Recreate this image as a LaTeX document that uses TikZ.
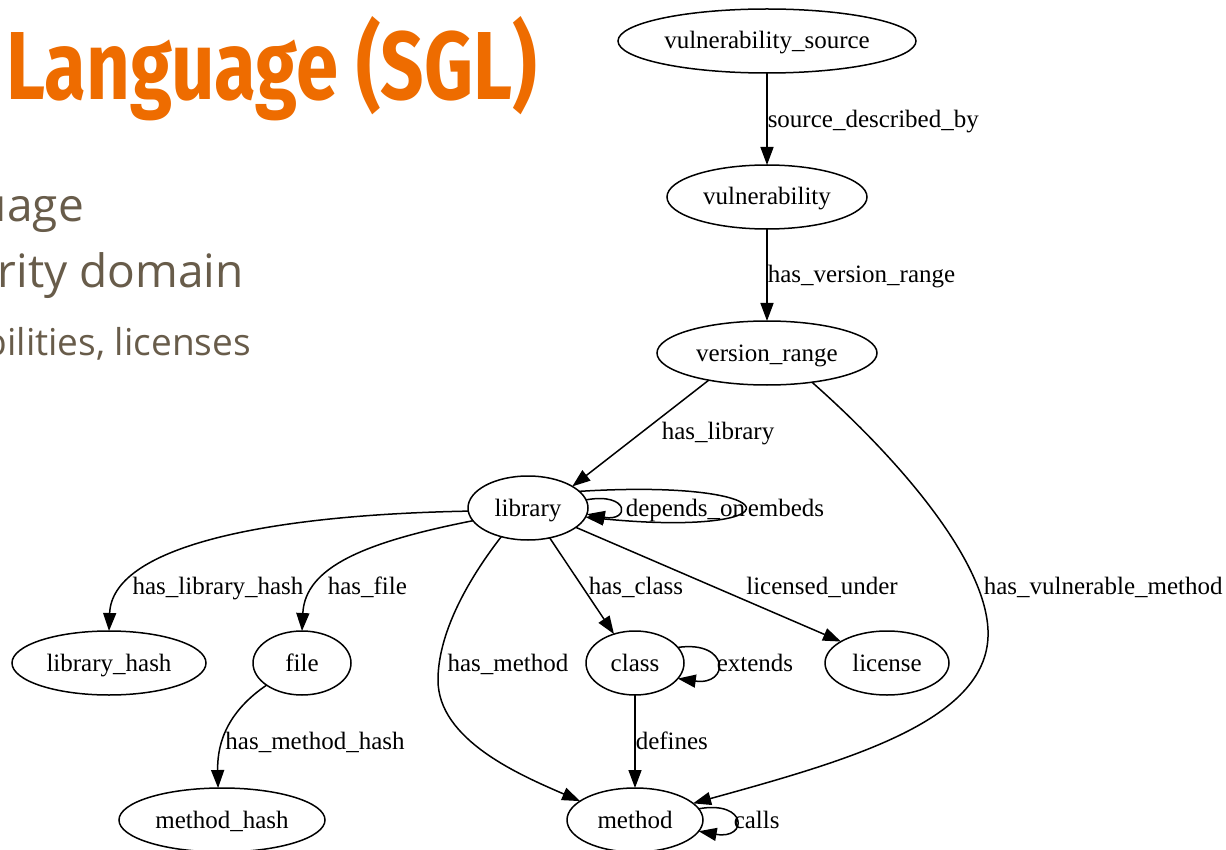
\documentclass[tikz,border=0pt]{standalone}
\usepackage{fontspec}
\setmainfont{Liberation Serif}
\newfontfamily\opensans{Open Sans}
\newfontfamily\firasans{Fira Sans}
\usetikzlibrary{shapes.geometric,arrows.meta}
\definecolor{titleorange}{RGB}{238,108,0}
\definecolor{bodybrown}{RGB}{104,92,74}
\newcommand\graphfont{\fontsize{25}{30}\selectfont}
\tikzset{
  nd/.style={draw, ellipse, line width=1.5pt, minimum height=64pt, inner sep=0pt, outer sep=0pt,
    font=\graphfont, text height=20pt, text depth=4pt},
  edge/.style={draw, line width=1.5pt, -{Triangle[length=18pt,width=13pt]}},
  lbl/.style={font=\graphfont, inner sep=0pt, text height=20pt, text depth=4pt},
  bodytxt/.style={anchor=base east, inner sep=0pt, text=bodybrown},
}
\begin{document}
\begin{tikzpicture}[x=1pt,y=-1pt]
\useasboundingbox (0,0) rectangle (1226,850);
\fill[white] (0,0) rectangle (1226,850);
\begin{scope}
\clip (0,0) rectangle (1226,850);
% slide text
\node[anchor=base west, inner sep=0pt, text=titleorange] (title) at (6,100)
  {\resizebox{531pt}{83pt}{\firasans\bfseries Language (SGL)}};
\node[bodytxt, font=\opensans\fontsize{46}{50}\selectfont] (b1) at (84,222) {uage};
\node[bodytxt, font=\opensans\fontsize{46}{50}\selectfont] (b2) at (244,288) {rity domain};
\node[bodytxt, font=\opensans\fontsize{37}{40}\selectfont] (b3) at (251,355) {bilities, licenses};

% graph nodes
\node[nd, minimum width=298pt] (vs) at (767,41) {vulnerability\_source};
\node[nd, minimum width=200pt] (vul) at (767,197) {vulnerability};
\node[nd, minimum width=220pt] (vr) at (767,353) {version\_range};
\node[nd, minimum width=120pt] (lib) at (528,508) {library};
\node[nd, minimum width=194pt] (lh) at (109,663) {library\_hash};
\node[nd, minimum width=98pt] (file) at (302,663) {file};
\node[nd, minimum width=206pt] (mh) at (222,820) {method\_hash};
\node[nd, minimum width=98pt] (class) at (635,663) {class};
\node[nd, minimum width=124pt] (license) at (887,663) {license};
\node[nd, minimum width=136pt] (method) at (635,820) {method};

% edges
\draw[edge] (vs) -- (vul) node[lbl, anchor=west] (l1) at (767,120) {source\_described\_by};
\draw[edge] (vul) -- (vr) node[lbl, anchor=west] (l2) at (767,275) {has\_version\_range};
\draw[edge] (vr.205) -- (lib.26) node[lbl] (l3) at (718,431) {has\_library};
\draw[edge] (vr.-33) .. controls (900,460) and (985,560) .. (988,630)
  .. controls (992,720) and (850,760) .. (method.16)
  node[lbl, anchor=west] (l4) at (983,586) {has\_vulnerable\_method};
\draw[edge] (lib.8) .. controls (630,492) and (630,522) .. (lib.-6)
  node[lbl, anchor=west] (l5) at (625,508) {depends\_on};
\draw[edge] (lib.18) .. controls (798,478) and (798,538) .. (lib.-9)
  node[lbl, anchor=west] (l6) at (747,508) {embeds};
\draw[edge] (lib.183) .. controls (260,515) and (112,548) .. (lh.north)
  node[lbl] (l7) at (218,586) {has\_library\_hash};
\draw[edge] (lib.193) .. controls (365,542) and (305,567) .. (file.north)
  node[lbl, anchor=west] (l8) at (327,586) {has\_file};
\draw[edge] (lib.227) .. controls (460,590) and (438,640) .. (438,680)
  .. controls (438,740) and (520,775) .. (method.161)
  node[lbl] (l9) at (508,663) {has\_method};
\draw[edge] (lib.-54) -- (class.126) node[lbl, anchor=west] (l10) at (588,586) {has\_class};
\draw[edge] (lib.-22) -- (license.155) node[lbl] (l11) at (822,586) {licensed\_under};
\draw[edge] (class.20) .. controls (730,640) and (730,686) .. (class.-20)
  node[lbl, anchor=west] (l12) at (716,663) {extends};
\draw[edge] (class) -- (method) node[lbl, anchor=west] (l13) at (635,741) {defines};
\draw[edge] (method.10) .. controls (748,800) and (748,840) .. (method.-10)
  node[lbl, anchor=west] (l14) at (733,820) {calls};
\draw[edge] (file.212) .. controls (230,710) and (217,740) .. (mh.97)
  node[lbl] (l15) at (315,741) {has\_method\_hash};
\end{scope}
\end{tikzpicture}
\end{document}
